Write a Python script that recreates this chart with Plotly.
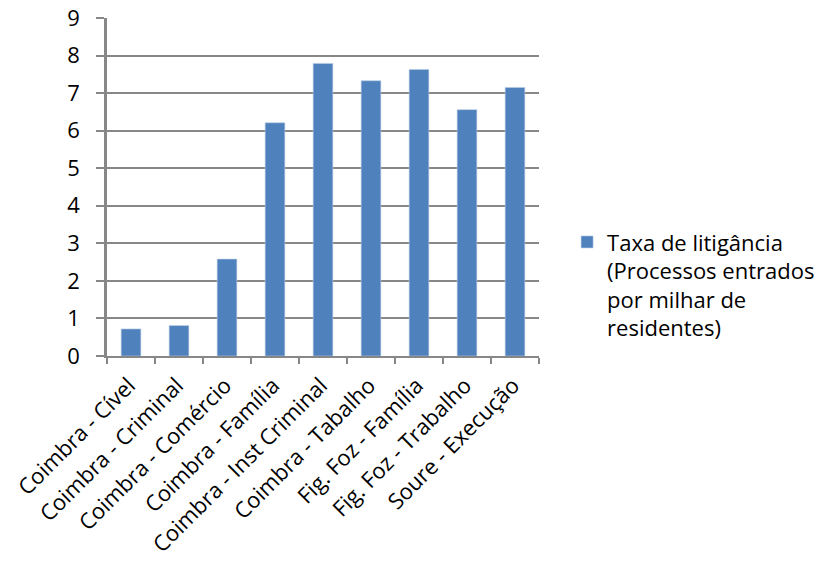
import plotly.graph_objects as go

categories = ["Coimbra - Cível", "Coimbra - Criminal", "Coimbra - Comércio",
              "Coimbra - Família", "Coimbra - Inst Criminal", "Coimbra - Tabalho",
              "Fig. Foz - Família", "Fig. Foz - Trabalho", "Soure - Execução"]
values = [0.72, 0.81, 2.58, 6.21, 7.79, 7.33, 7.63, 6.56, 7.15]
series_name = "Taxa de litigância<br>(Processos entrados<br>por milhar de<br>residentes)"
y_ticks = list(range(0, 10))

FONT = "Open Sans"
FS = 22
GRID = "#878787"

fig = go.Figure(go.Bar(
    x=categories, y=values, name=series_name,
    marker=dict(color="#4F81BD", line=dict(color="#B9CDE5", width=0.6)),
    showlegend=True,
))

fig.update_layout(
    width=824, height=566,
    margin=dict(l=107, r=285, t=18, b=210, autoexpand=False),
    paper_bgcolor="white", plot_bgcolor="white",
    font=dict(family=FONT, size=FS, color="black"),
    bargap=0.59,
    legend=dict(x=1.065, y=0.399, xanchor="left", yanchor="top",
                valign="top", font=dict(family=FONT, size=FS),
                itemwidth=30, tracegroupgap=0),
)
fig.update_xaxes(
    type="category", tickangle=-45, tickson="boundaries", ticks="outside",
    ticklen=6, tickcolor=GRID, tickwidth=2, showline=True, linecolor=GRID,
    linewidth=2, showgrid=False, tickfont=dict(family=FONT, size=FS),
    automargin=False, ticklabelshift=-2, ticklabelstandoff=6,
)
fig.update_yaxes(
    range=[0, 9], tickvals=y_ticks, ticks="outside", ticklen=8, tickcolor=GRID,
    tickwidth=2, showline=True, linecolor=GRID, linewidth=2.5,
    showgrid=True, gridcolor=GRID, gridwidth=2, zeroline=False,
    tickfont=dict(family=FONT, size=FS), ticklabelstandoff=12,
    automargin=False,
)

fig.write_html(
    "out.html",
    config={"displayModeBar": False},
    post_script="document.body.style.margin='0';document.body.style.overflow='hidden';",
)
